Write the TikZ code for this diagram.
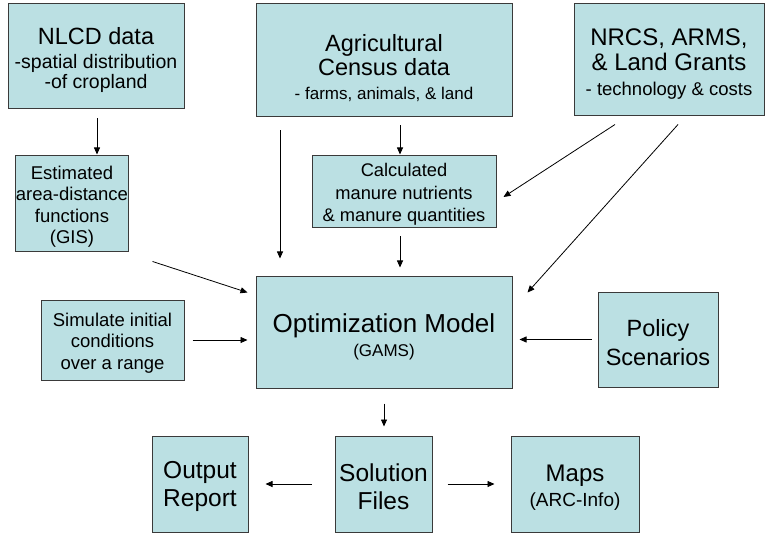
\documentclass[tikz,border=0pt]{standalone}
\usepackage{fontspec}
\setmainfont{Liberation Sans}
\usetikzlibrary{arrows.meta}
\definecolor{boxfill}{HTML}{BBE0E3}
\definecolor{boxline}{HTML}{3A3A3A}
\newcommand{\fsz}[2]{\fontsize{#1}{#2}\selectfont}
\newcommand{\lift}[1]{\rule{0pt}{#1}}
\begin{document}
\begin{tikzpicture}[x=1pt,y=-1pt,
  box/.style={draw=boxline, line width=1pt, fill=boxfill, align=center, inner sep=0pt, anchor=center},
  arr/.style={-{Triangle[length=7pt,width=6pt]}, line width=0.8pt, black}]
\useasboundingbox (0,0) rectangle (767,534);

\node[box, minimum width=176pt, minimum height=105pt, font=\fsz{19.5}{20}] (nlcd) at (96,56.5)
  {\lift{23.6pt}\fsz{23.5}{20}NLCD data\\[4pt] -spatial distribution\\ -of cropland};
\node[box, minimum width=256pt, minimum height=113pt, font=\fsz{23.5}{24}] (agri) at (384,60.5)
  {\lift{33pt}Agricultural\\ Census data\\ \fsz{17}{24}- farms, animals, \& land};
\node[box, minimum width=190pt, minimum height=112pt, font=\fsz{24}{25}] (nrcs) at (669,60)
  {\lift{24pt}NRCS, ARMS,\\ \& Land Grants\\ \fsz{18.5}{24}- technology \& costs};
\node[box, minimum width=112pt, minimum height=96pt, font=\fsz{18.5}{21.3}] (est) at (72,204)
  {\lift{18.9pt}Estimated\\ area-distance\\ functions\\ (GIS)};
\node[box, minimum width=184pt, minimum height=72pt, font=\fsz{18.3}{22.5}] (calc) at (404,192)
  {\lift{18.7pt}Calculated\\ manure nutrients\\ \& manure quantities};
\node[box, minimum width=143pt, minimum height=80pt, font=\fsz{18.5}{21.5}] (sim) at (112.5,340)
  {\lift{18.9pt}Simulate initial\\ conditions\\ over a range};
\node[box, minimum width=256pt, minimum height=112pt, font=\fsz{17}{24}] (opt) at (384,332)
  {\lift{29.5pt}\fsz{26}{24}Optimization Model\\ (GAMS)};
\node[box, minimum width=120pt, minimum height=95pt, font=\fsz{23.5}{29}] (pol) at (658,339.5)
  {\lift{22.6pt}Policy\\ Scenarios};
\node[box, minimum width=96pt, minimum height=96pt, font=\fsz{24.5}{28}] (out) at (200,484)
  {\lift{22.4pt}Output\\ Report};
\node[box, minimum width=97pt, minimum height=96pt, font=\fsz{24.5}{28}] (sol) at (383.5,484)
  {\lift{22.4pt}Solution\\ Files};
\node[box, minimum width=128pt, minimum height=96pt, font=\fsz{19}{25}] (maps) at (575,484)
  {\lift{24pt}\fsz{24}{25}Maps\\ (ARC-Info)};

\draw[arr] ([xshift=1pt,yshift=-9pt]nlcd.south) -- ([xshift=25pt,yshift=1pt]est.north);
\draw[arr] ([xshift=16pt,yshift=-8pt]agri.south) -- ([xshift=-4pt,yshift=1pt]calc.north);
\draw[arr] ([xshift=-104pt,yshift=-13pt]agri.south) -- ([xshift=-104pt,yshift=17pt]opt.north);
\draw[arr] ([xshift=-54pt,yshift=-8pt]nrcs.south) -- ([xshift=7pt,yshift=-5pt]calc.east);
\draw[arr] ([xshift=9pt,yshift=-8pt]nrcs.south) -- ([xshift=15pt,yshift=-17pt]opt.north east);
\draw[arr] ([xshift=24pt,yshift=-9pt]est.south east) -- ([xshift=-8pt,yshift=-17pt]opt.north west);
\draw[arr] ([xshift=-4pt,yshift=-8pt]calc.south) -- ([xshift=16pt,yshift=8pt]opt.north);
\draw[arr] ([xshift=8pt]sim.east) -- ([xshift=-8pt]sim.east -| opt.west);
\draw[arr] ([xshift=-6pt]pol.west) -- ([xshift=7pt]pol.west -| opt.east);
\draw[arr] ([yshift=-15pt]opt.south) -- ([yshift=9pt]opt.south |- sol.north);
\draw[arr] ([xshift=-23pt]sol.west) -- ([xshift=17pt]out.east);
\draw[arr] ([xshift=15pt]sol.east) -- ([xshift=-16pt]maps.west);
\end{tikzpicture}
\end{document}
